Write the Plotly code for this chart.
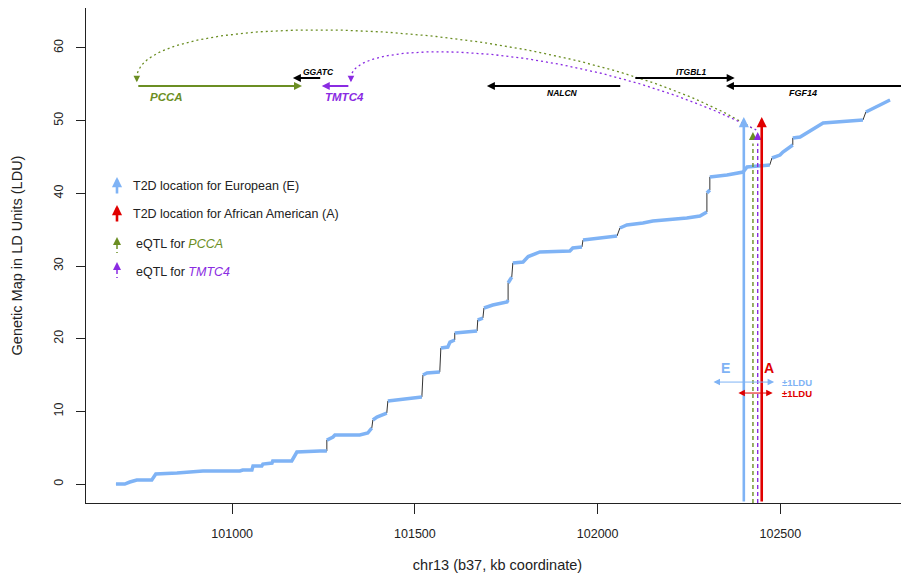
import numpy as np
import plotly.graph_objects as go

# ---------------- data ----------------
map_kb = [100682, 100706, 100720, 100739, 100780, 100791, 100849, 100903, 100920, 101021,
          101029, 101054, 101057, 101081, 101084, 101109, 101111, 101163, 101177, 101240,
          101259, 101259, 101276, 101281, 101349, 101371, 101382, 101385, 101396, 101423,
          101426, 101505, 101519, 101522, 101533, 101568, 101571, 101590, 101596, 101609,
          101609, 101670, 101672, 101686, 101689, 101713, 101752, 101755, 101755, 101765,
          101768, 101796, 101810, 101842, 101924, 101932, 101957, 101960, 102006, 102053,
          102061, 102080, 102124, 102151, 102244, 102280, 102299, 102299, 102307, 102307,
          102354, 102398, 102409, 102471, 102477, 102499, 102507, 102521, 102534, 102534,
          102554, 102617, 102726, 102734, 102773, 102800]
map_ldu = [0.00, 0.00, 0.28, 0.55, 0.55, 1.38, 1.51, 1.65, 1.79, 1.79,
           1.93, 1.93, 2.48, 2.48, 2.75, 2.89, 3.17, 3.17, 4.40, 4.54,
           4.54, 6.05, 6.47, 6.74, 6.74, 7.02, 7.71, 8.81, 9.22, 9.77,
           11.42, 11.83, 11.97, 15.00, 15.27, 15.41, 18.71, 18.85, 19.54, 19.82,
           20.78, 21.05, 22.57, 22.84, 24.22, 24.63, 25.04, 25.32, 27.66, 28.48,
           30.41, 30.55, 31.30, 31.93, 32.06, 32.48, 32.61, 33.58, 33.85, 34.13,
           35.23, 35.64, 35.92, 36.19, 36.60, 36.88, 37.43, 40.04, 40.46, 42.25,
           42.52, 42.93, 43.62, 43.90, 44.86, 45.27, 45.69, 46.24, 46.65, 47.61,
           47.75, 49.68, 50.09, 51.19, 52.15, 52.84]

# genes: tail -> head (arrow direction = strand)
gene_names = ["PCCA", "GGATC", "TMTC4", "NALCN", "ITGBL1", "FGF14"]
gene_tail = [100739, 101245, 101322, 102066, 102099, 102900]
gene_head = [101191, 101166, 101245, 101697, 102375, 102351]
gene_y = [54.77, 55.87, 54.77, 54.77, 55.87, 54.77]
gene_label_x = [100821, 101235, 101308, 101905, 102255, 102562]
gene_label_y = [53.25, 56.69, 53.25, 53.80, 56.69, 53.80]
gene_colors = ["#6B8E23", "#000000", "#8A2BE2", "#000000", "#000000", "#000000"]
gene_label_size = [11.5, 8.5, 11.5, 8.5, 8.5, 9]

# T2D locations and eQTLs
t2d_eur_kb, t2d_afr_kb = 102400, 102449
eqtl_pcca_kb, eqtl_tmtc4_kb = 102425, 102438
t2d_tip = 50.5
eqtl_tip = 48.44
# +-1 LDU intervals
eur_interval = [102313, 102483]
afr_interval = [102381, 102479]

# connector arcs (cubic Bezier control points: start, c1, c2, end)
arc_pcca = [(100739, 55.87), (100739, 65.91), (101897, 65.23), (102422, 48.99)]
arc_tmtc4 = [(101325, 55.87), (101325, 61.79), (101952, 61.10), (102434, 48.72)]

XR = [100600, 102852]
YR = [-2.61, 65.5]

BLUE = "#7FB3F5"
RED = "#E00000"
GREEN = "#6B8E23"
PURPLE = "#8A2BE2"
FONT = "Liberation Sans, Arial, Helvetica, sans-serif"

fig = go.Figure()

# black underlying line
fig.add_trace(go.Scatter(x=map_kb, y=map_ldu, mode="lines",
                         line=dict(color="#333333", width=1), hoverinfo="skip", showlegend=False))
# blue thick line on the gradual parts (broken at abrupt jumps)
bx, by = [], []
for i in range(len(map_kb)):
    if i > 0 and map_ldu[i] - map_ldu[i - 1] >= 0.9 and map_kb[i] - map_kb[i - 1] <= 12:
        bx.append(None); by.append(None)
    bx.append(map_kb[i]); by.append(map_ldu[i])
fig.add_trace(go.Scatter(x=bx, y=by, mode="lines", connectgaps=False,
                         line=dict(color=BLUE, width=3.5), hoverinfo="skip", showlegend=False))

# arcs
def bezier(ctrl, n=120):
    t = np.linspace(0, 1, n)
    p = np.array(ctrl, dtype=float)
    c = ((1 - t) ** 3)[:, None] * p[0] + (3 * t * (1 - t) ** 2)[:, None] * p[1] \
        + (3 * t ** 2 * (1 - t))[:, None] * p[2] + (t ** 3)[:, None] * p[3]
    return c[:, 0], c[:, 1]

for ctrl, col in [(arc_pcca, GREEN), (arc_tmtc4, PURPLE)]:
    ax_, ay_ = bezier(ctrl)
    fig.add_trace(go.Scatter(x=ax_, y=ay_, mode="lines",
                             line=dict(color=col, width=1.3, dash="2px,3px"),
                             hoverinfo="skip", showlegend=False))

ann = []
shapes = []

# vertical dashed eQTL lines
for kb, col in [(eqtl_pcca_kb, GREEN), (eqtl_tmtc4_kb, PURPLE)]:
    shapes.append(dict(type="line", xref="x", yref="y", x0=kb, x1=kb, y0=YR[0], y1=eqtl_tip - 1.6,
                       line=dict(color=col, width=1.4, dash="4px,3px")))
    ann.append(dict(x=kb, y=eqtl_tip, ax=kb, ay=eqtl_tip - 1.1, xref="x", yref="y", axref="x", ayref="y",
                    text="", showarrow=True, arrowhead=2, arrowwidth=1.5, arrowsize=1.07,
                    arrowcolor=col, standoff=0))

# T2D arrows
for kb, col in [(t2d_eur_kb, BLUE), (t2d_afr_kb, RED)]:
    ann.append(dict(x=kb, y=t2d_tip, ax=kb, ay=YR[0], xref="x", yref="y", axref="x", ayref="y",
                    text="", showarrow=True, arrowhead=2, arrowwidth=2.6, arrowsize=0.78,
                    arrowcolor=col, standoff=0))

# genes
for name, t, h, y, lx, ly, col, fs in zip(gene_names, gene_tail, gene_head, gene_y,
                                          gene_label_x, gene_label_y, gene_colors, gene_label_size):
    ann.append(dict(x=h, y=y, ax=t, ay=y, xref="x", yref="y", axref="x", ayref="y",
                    text="", showarrow=True, arrowhead=2, arrowwidth=2, arrowsize=0.8,
                    arrowcolor=col, standoff=0))
    ann.append(dict(x=lx, y=ly, xref="x", yref="y", text="<b><i>%s</i></b>" % name,
                    showarrow=False, font=dict(family=FONT, size=fs, color=col)))

# downward heads at arc starts
for ctrl, col in [(arc_pcca, GREEN), (arc_tmtc4, PURPLE)]:
    x0, y0 = ctrl[0]
    ann.append(dict(x=x0, y=y0 - 0.6, ax=x0, ay=y0 + 0.2, xref="x", yref="y", axref="x", ayref="y",
                    text="", showarrow=True, arrowhead=2, arrowwidth=1.2, arrowsize=1.1,
                    arrowcolor=col, standoff=0))

# +-1 LDU intervals
for (a, b), yv, col in [(eur_interval, 14.03, BLUE), (afr_interval, 12.52, RED)]:
    ann.append(dict(x=b, y=yv, ax=a, ay=yv, xref="x", yref="y", axref="x", ayref="y",
                    text="", showarrow=True, arrowhead=2, arrowside="end+start",
                    arrowwidth=1, arrowsize=1.3, arrowcolor=col, standoff=0, startstandoff=0,
                    startarrowhead=2, startarrowsize=1.3))
    ann.append(dict(x=102500, y=yv, xref="x", yref="y", text="<b>±1LDU</b>", xanchor="left",
                    showarrow=False, font=dict(family=FONT, size=9.5, color=col)))
ann.append(dict(x=102351, y=15.96, xref="x", yref="y", text="<b>E</b>", showarrow=False,
                font=dict(family=FONT, size=14, color=BLUE)))
ann.append(dict(x=102469, y=15.96, xref="x", yref="y", text="<b>A</b>", showarrow=False,
                font=dict(family=FONT, size=14, color=RED)))

# legend (paper coordinates; screen pixel positions of the plot area)
W, H, L, B = 823.0, 495.0, 86.0, 503.0
def px(x): return (x - L) / W
def py(y): return (B - y) / H

leg_text = ["T2D location for European (E)",
            "T2D location for African American (A)",
            "eQTL for <i><span style='color:%s'>PCCA</span></i>" % GREEN,
            "eQTL for <i><span style='color:%s'>TMTC4</span></i>" % PURPLE]
leg_y = [186, 214, 244, 272]
leg_x = [131, 131, 134, 134]
for t, yy, xx in zip(leg_text, leg_y, leg_x):
    ann.append(dict(x=px(xx), y=py(yy), xref="paper", yref="paper", text=t, showarrow=False,
                    xanchor="left", yanchor="middle", font=dict(family=FONT, size=12.5, color="#222")))
for yy, col in [(177, BLUE), (205, RED)]:
    ann.append(dict(x=px(117), y=py(yy), xref="paper", yref="paper", ax=0, ay=18, text="",
                    showarrow=True, arrowhead=2, arrowwidth=2.6, arrowsize=0.78, arrowcolor=col, standoff=0))
for yy, col in [(237, GREEN), (262, PURPLE)]:
    ann.append(dict(x=px(117), y=py(yy), xref="paper", yref="paper", ax=0, ay=7, text="",
                    showarrow=True, arrowhead=2, arrowwidth=1.5, arrowsize=1.07, arrowcolor=col, standoff=0))
    shapes.append(dict(type="line", xref="paper", yref="paper", x0=px(117), x1=px(117),
                       y0=py(yy + 8), y1=py(yy + 16), line=dict(color=col, width=1.5, dash="4px,3px")))

# the page body adds an 8px offset, so the figure is 8px smaller and margins shifted
fig.update_layout(
    width=901, height=571,
    margin=dict(l=78, r=0, t=0, b=76),
    paper_bgcolor="white", plot_bgcolor="white",
    font=dict(family=FONT, size=12.5, color="#222"),
    showlegend=False,
    annotations=ann, shapes=shapes,
    xaxis=dict(range=XR, showgrid=False, zeroline=False, showline=True, linecolor="#222", linewidth=1,
               automargin=False,
               ticks="outside", ticklen=10, tickcolor="#222", tickvals=[101000, 101500, 102000, 102500],
               ticktext=["101000", "101500", "102000", "102500"], ticklabelstandoff=9,
               tickfont=dict(size=12.5, color="#222"),
               title=dict(text="chr13 (b37, kb coordinate)", font=dict(size=14.5, color="#222"), standoff=19)),
    yaxis=dict(range=YR, showgrid=False, zeroline=False, showline=True, linecolor="#222", linewidth=1,
               automargin=False,
               ticks="outside", ticklen=9, tickcolor="#222", tickvals=[0, 10, 20, 30, 40, 50, 60],
               tickangle=-90, ticklabelstandoff=8, tickfont=dict(size=12.5, color="#222"),
               title=dict(text="Genetic Map in LD Units (LDU)", font=dict(size=14.5, color="#222"), standoff=25)),
)

fig.write_html("out.html")
